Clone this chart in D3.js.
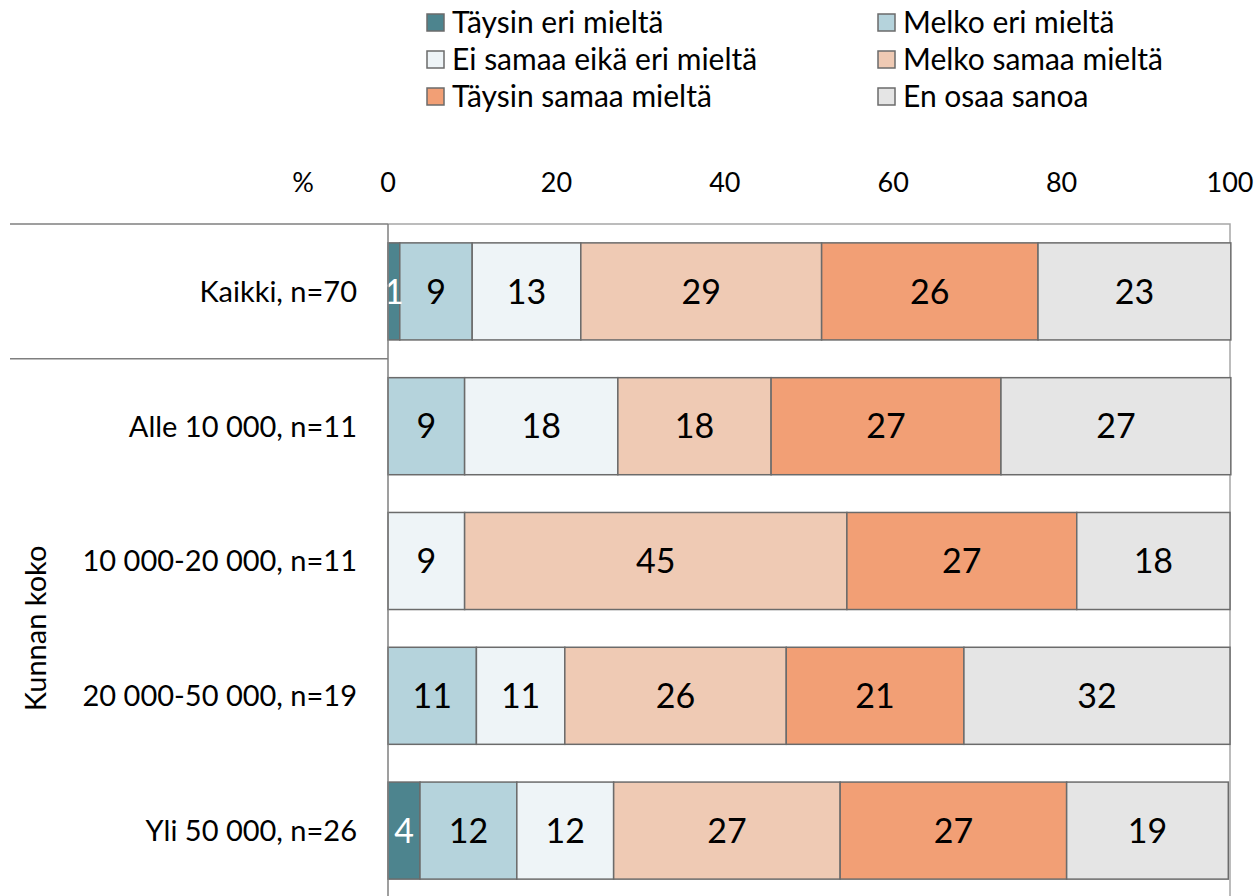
<!DOCTYPE html>
<html>
<head>
<meta charset="utf-8">
<script src="https://cdn.jsdelivr.net/npm/d3@7"></script>
<style>
  body { margin: 0; background: #fff; }
  text { font-family: Lato, "DejaVu Sans", sans-serif; }
</style>
</head>
<body>
<script>
// categories (rows) and answer options
var groups = ["Kaikki, n=70", "Alle 10 000, n=11", "10 000-20 000, n=11", "20 000-50 000, n=19", "Yli 50 000, n=26"];
var options = ["Täysin eri mieltä", "Melko eri mieltä", "Ei samaa eikä eri mieltä", "Melko samaa mieltä", "Täysin samaa mieltä", "En osaa sanoa"];

// percentages per option, one value per group
var taysinEri   = [1.4, 0, 0, 0, 3.8];
var melkoEri    = [8.6, 9.1, 0, 10.5, 11.5];
var eiSamaaEi   = [12.9, 18.2, 9.1, 10.5, 11.5];
var melkoSamaa  = [28.6, 18.2, 45.4, 26.3, 26.9];
var taysinSamaa = [25.7, 27.3, 27.3, 21.1, 26.9];
var enOsaa      = [22.9, 27.3, 18.2, 31.6, 19.2];

var xTicks = [0, 20, 40, 60, 80, 100];
var colors = ["#4d848e", "#b5d3dc", "#eef4f7", "#efcab4", "#f29f75", "#e5e5e5"];

var series = [taysinEri, melkoEri, eiSamaaEi, melkoSamaa, taysinSamaa, enOsaa];
var table = groups.map(function(g, i) {
    var row = { group: g };
    options.forEach(function(o, j) { row[o] = series[j][i]; });
    return row;
});

var width = 1260;
var height = 896;
var plotLeft = 388, plotRight = 1230, plotTop = 224, plotBottom = 898;

var svg = d3.select("body").append("svg")
    .attr("width", width)
    .attr("height", height);

var x = d3.scaleLinear().domain([0, 100]).range([plotLeft, plotRight]);
var y = d3.scaleBand().domain(groups).range([plotTop, plotBottom])
    .paddingInner(0.28).paddingOuter(0.14);
var color = d3.scaleOrdinal().domain(options).range(colors);

// plot frame (top and right)
svg.append("path")
    .attr("d", "M" + plotLeft + "," + plotTop + "H" + plotRight + "V" + height)
    .attr("fill", "none")
    .attr("stroke", "#a6a6a6")
    .attr("stroke-width", 1.5);

var stacked = d3.stack().keys(options)(table);

var layer = svg.selectAll("g.layer")
    .data(stacked)
    .enter()
    .append("g")
    .attr("class", "layer")
    .attr("fill", function(d) { return color(d.key); });

layer.selectAll("rect")
    .data(function(d) { return d.filter(function(p) { return p[1] - p[0] > 0; }); })
    .enter()
    .append("rect")
    .attr("x", function(d) { return x(d[0]); })
    .attr("y", function(d) { return y(d.data.group); })
    .attr("width", function(d) { return x(d[1]) - x(d[0]); })
    .attr("height", y.bandwidth())
    .attr("stroke", "#6b6b6b")
    .attr("stroke-width", 1.5);

// value labels
stacked.forEach(function(s, k) {
    svg.append("g").selectAll("text")
        .data(s.filter(function(p) { return p[1] - p[0] > 0; }))
        .enter()
        .append("text")
        .text(function(d) { return Math.round(d[1] - d[0]); })
        .attr("x", function(d) { return (x(d[0]) + x(d[1])) / 2; })
        .attr("y", function(d) { return y(d.data.group) + y.bandwidth() / 2; })
        .attr("dy", "0.36em")
        .attr("text-anchor", "middle")
        .attr("font-size", "34px")
        .attr("fill", k === 0 ? "#fff" : "#000");
});

// left axis line
svg.append("line")
    .attr("x1", plotLeft).attr("x2", plotLeft)
    .attr("y1", plotTop).attr("y2", height)
    .attr("stroke", "#7f7f7f")
    .attr("stroke-width", 1.5);

// top axis tick labels
svg.selectAll("text.tick")
    .data(xTicks)
    .enter()
    .append("text")
    .attr("class", "tick")
    .text(function(d) { return d; })
    .attr("x", function(d) { return x(d); })
    .attr("y", 192)
    .attr("text-anchor", "middle")
    .attr("font-size", "27px")
    .attr("fill", "#000");

svg.append("text")
    .text("%")
    .attr("x", 303)
    .attr("y", 192)
    .attr("text-anchor", "middle")
    .attr("font-size", "27px");

// category labels
svg.selectAll("text.cat")
    .data(groups)
    .enter()
    .append("text")
    .attr("class", "cat")
    .text(function(d) { return d; })
    .attr("x", 357)
    .attr("y", function(d) { return y(d) + y.bandwidth() / 2; })
    .attr("dy", "0.36em")
    .attr("text-anchor", "end")
    .attr("font-size", "29px");

// group separators
var sep = (y(groups[0]) + y.bandwidth() + y(groups[1])) / 2;
[plotTop, sep].forEach(function(yy) {
    svg.append("line")
        .attr("x1", 10).attr("x2", plotLeft)
        .attr("y1", yy).attr("y2", yy)
        .attr("stroke", "#7f7f7f")
        .attr("stroke-width", 1.5);
});

svg.append("text")
    .text("Kunnan koko")
    .attr("transform", "translate(46," + ((sep + plotBottom) / 2) + ") rotate(-90)")
    .attr("text-anchor", "middle")
    .attr("font-size", "29px");

// legend: two columns, three rows
var legend = svg.selectAll("g.legend")
    .data(options)
    .enter()
    .append("g")
    .attr("class", "legend")
    .attr("transform", function(d, i) {
        var col = i % 2, row = Math.floor(i / 2);
        return "translate(" + (427 + col * 451) + "," + (22 + row * 37) + ")";
    });

legend.append("rect")
    .attr("x", 0)
    .attr("y", -8)
    .attr("width", 17)
    .attr("height", 17)
    .attr("fill", function(d) { return color(d); })
    .attr("stroke", "#6b6b6b")
    .attr("stroke-width", 1.5);

legend.append("text")
    .text(function(d) { return d; })
    .attr("x", 25)
    .attr("y", 0)
    .attr("dy", "0.36em")
    .attr("font-size", "30px");
</script>
</body>
</html>
